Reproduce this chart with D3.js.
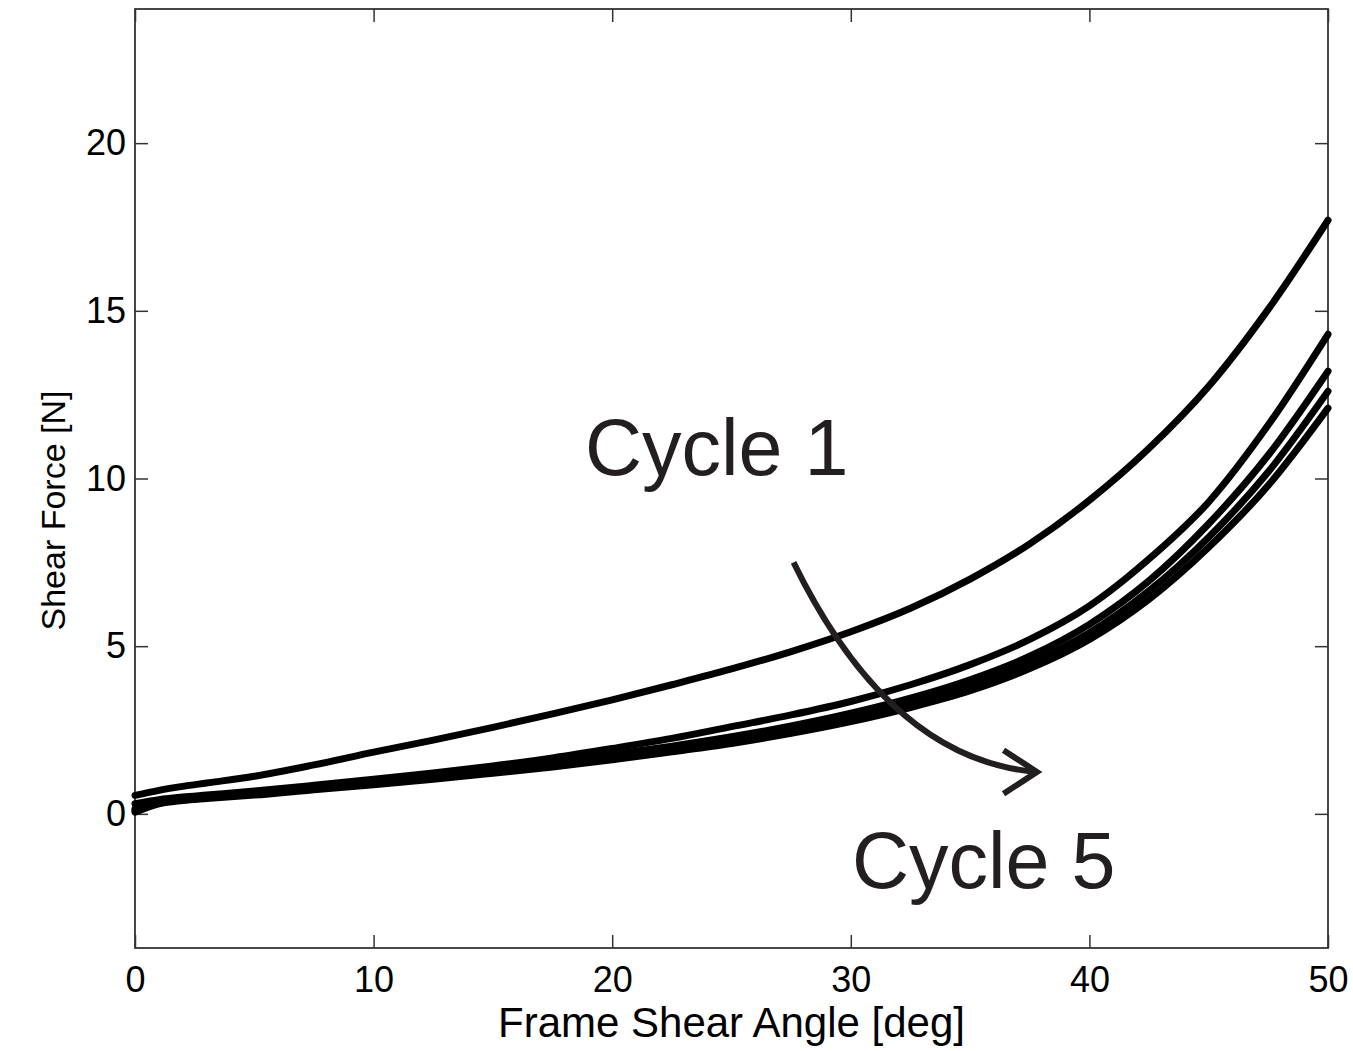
<!DOCTYPE html>
<html>
<head>
<meta charset="utf-8">
<script src="https://cdn.jsdelivr.net/npm/d3@7"></script>
<style>
  html, body { margin: 0; padding: 0; background: #fff; }
  svg { display: block; }
  text { font-family: "Liberation Sans", Arial, sans-serif; }
</style>
</head>
<body>
<svg id="chart" width="1353" height="1051"></svg>
<script>
// ---- data ----
const angles = [0,1,2,3,5,7.5,10,12.5,15,17.5,20,22.5,25,27.5,30,32.5,35,37.5,40,42.5,45,47.5,50];
const cycle1 = [0.55,0.7,0.82,0.92,1.12,1.46,1.84,2.2,2.58,2.98,3.4,3.85,4.32,4.84,5.43,6.13,7.0,8.05,9.35,10.9,12.75,15.05,17.7];
const cycle2 = [0.3,0.42,0.5,0.56,0.68,0.85,1.03,1.22,1.43,1.67,1.95,2.25,2.6,2.95,3.35,3.85,4.45,5.2,6.2,7.6,9.3,11.6,14.3];
const cycle3 = [0.15,0.35,0.45,0.5,0.62,0.78,0.95,1.12,1.32,1.53,1.77,2.02,2.3,2.62,3.0,3.45,4.0,4.7,5.65,6.95,8.65,10.7,13.2];
const cycle4 = [0.1,0.32,0.42,0.48,0.59,0.75,0.91,1.07,1.26,1.46,1.68,1.93,2.2,2.5,2.86,3.3,3.82,4.5,5.4,6.65,8.25,10.2,12.6];
const cycle5 = [0.05,0.3,0.4,0.46,0.56,0.72,0.87,1.03,1.21,1.4,1.61,1.85,2.1,2.4,2.75,3.17,3.67,4.33,5.2,6.4,7.95,9.8,12.1];
const cycles = [cycle1, cycle2, cycle3, cycle4, cycle5];
const xTicks = [0,10,20,30,40,50];
const yTicks = [0,5,10,15,20];
const xDomain = [0,50];
const yDomain = [-4,24];
// arrow: start, control, end (quadratic curve) in data units
const arrowStart = [27.6,7.5];
const arrowCtrl = [31.64,1.61];
const arrowEnd = [37.8,1.25];
const arrowHead = [[36.4,1.9],[37.8,1.25],[36.4,0.6]];
const labels = [{text:"Cycle 1", x:18.86, y:10.09},{text:"Cycle 5", x:30.05, y:-2.2}];
const xLabel = "Frame Shear Angle [deg]";
const yLabel = "Shear Force [N]";

// ---- layout ----
const svg = d3.select("#chart");
const m = {left:135, top:9, right:25, bottom:103};
const W = 1353 - m.left - m.right, H = 1051 - m.top - m.bottom;
const x = d3.scaleLinear().domain(xDomain).range([0, W]);
const y = d3.scaleLinear().domain(yDomain).range([H, 0]);
const g = svg.append("g").attr("transform", `translate(${m.left},${m.top})`);

const axisColor = "#333";
function styleAxis(sel, showText) {
  sel.select(".domain").remove();
  sel.selectAll(".tick line").attr("stroke", axisColor).attr("stroke-width", 1.5);
  sel.selectAll(".tick text").attr("fill", "#000").style("font-size", "36px")
     .style("font-family", '"Liberation Sans", Arial, sans-serif');
  if (!showText) sel.selectAll(".tick text").remove();
}
const tl = 13;
g.append("g").attr("transform", `translate(0,${H})`)
  .call(d3.axisBottom(x).tickValues(xTicks).tickSize(-tl).tickPadding(18).tickFormat(d3.format("d")))
  .call(s => styleAxis(s, true));
g.append("g")
  .call(d3.axisTop(x).tickValues(xTicks).tickSize(-tl))
  .call(s => styleAxis(s, false));
g.append("g")
  .call(d3.axisLeft(y).tickValues(yTicks).tickSize(-tl).tickPadding(9).tickFormat(d3.format("d")))
  .call(s => styleAxis(s, true));
g.append("g").attr("transform", `translate(${W},0)`)
  .call(d3.axisRight(y).tickValues(yTicks).tickSize(-tl))
  .call(s => styleAxis(s, false));

// box
g.append("rect").attr("x",0).attr("y",0).attr("width",W).attr("height",H)
  .attr("fill","none").attr("stroke",axisColor).attr("stroke-width",1.8);

// curves
const line = d3.line().x((d,i)=>x(angles[i])).y(d=>y(d)).curve(d3.curveMonotoneX);
g.selectAll("path.cycle").data(cycles).enter().append("path")
  .attr("class","cycle").attr("d", line)
  .attr("fill","none").attr("stroke","#000").attr("stroke-width",7)
  .attr("stroke-linejoin","round").attr("stroke-linecap","round");

// arrow annotation
const ap = d3.path();
ap.moveTo(x(arrowStart[0]), y(arrowStart[1]));
ap.quadraticCurveTo(x(arrowCtrl[0]), y(arrowCtrl[1]), x(arrowEnd[0]), y(arrowEnd[1]));
g.append("path").attr("d", ap.toString()).attr("fill","none")
  .attr("stroke","#231f20").attr("stroke-width",6);
g.append("path").attr("d", d3.line().x(d=>x(d[0])).y(d=>y(d[1]))(arrowHead)).attr("fill","none")
  .attr("stroke","#231f20").attr("stroke-width",6).attr("stroke-linejoin","miter");

// labels
g.selectAll("text.cyc").data(labels).enter().append("text")
  .attr("class","cyc").attr("x", d=>x(d.x)).attr("y", d=>y(d.y))
  .attr("fill","#231f20").style("font-size","79px").text(d=>d.text);

// axis titles
svg.append("text").attr("x", m.left + W/2).attr("y", 1037).attr("text-anchor","middle")
  .style("font-size","42px").attr("fill","#000").text(xLabel);
svg.append("text").attr("transform", `translate(65,${(393+628)/2}) rotate(-90)`)
  .attr("text-anchor","middle").style("font-size","34px").attr("fill","#000").text(yLabel);
</script>
</body>
</html>
